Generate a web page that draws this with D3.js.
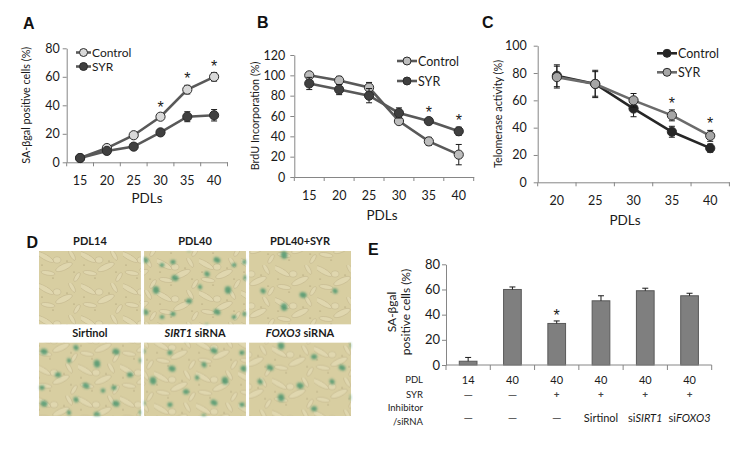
<!DOCTYPE html>
<html>
<head>
<meta charset="utf-8">
<script src="https://cdn.jsdelivr.net/npm/d3@7"></script>
<style>
  body { margin: 0; background: #fff; }
  svg { display: block; font-family: Lato, "Open Sans", sans-serif; }
</style>
</head>
<body>
<svg id="fig" width="750" height="465"></svg>
<script>
// ---- panel A: SA-bgal positive cells vs PDLs
const pdlsA = [15, 20, 25, 30, 35, 40]
const controlA = [3, 10, 19, 32, 51, 60]
const controlAErr = [1, 1.5, 1.5, 2, 3, 3]
const syrA = [3, 8, 11, 21, 32, 33]
const syrAErr = [1, 1.5, 2, 1.5, 3.5, 4]
const starsA = [30, 35, 40]

// ---- panel B: BrdU incorporation
const pdlsB = [15, 20, 25, 30, 35, 40]
const controlB = [100, 95, 88, 55, 35, 22]
const controlBErr = [2, 4, 5, 2, 4, 10]
const syrB = [92, 86, 80, 63, 55, 45]
const syrBErr = [6, 5, 7, 5, 2, 4]
const starsB = [35, 40]

// ---- panel C: telomerase activity
const pdlsC = [20, 25, 30, 35, 40]
const controlC = [78, 72, 54, 37, 25]
const controlCErr = [8, 10, 6, 4, 3]
const syrC = [77, 72, 60, 49, 34]
const syrCErr = [8, 9, 5, 4, 4]
const starsC = [35, 40]

// ---- panel D: stained cultures
const photoTitles = [
  [{t: "PDL14"}], [{t: "PDL40"}], [{t: "PDL40+SYR"}],
  [{t: "Sirtinol"}], [{t: "SIRT1", i: true}, {t: " siRNA"}], [{t: "FOXO3", i: true}, {t: " siRNA"}]
]
const photoStain = [0, 1, 0.4, 1, 0.9, 0.65]

// ---- panel E: SA-bgal after inhibitors
const barValues = [3, 60, 33, 51, 59, 55]
const barErr = [3, 2, 2, 4, 2, 2]
const barPdl = ["14", "40", "40", "40", "40", "40"]
const barSyr = ["—", "—", "+", "+", "+", "+"]
const barInhibitor = [
  [{t: "—"}], [{t: "—"}], [{t: "—"}], [{t: "Sirtinol"}],
  [{t: "si"}, {t: "SIRT1", i: true}], [{t: "si"}, {t: "FOXO3", i: true}]
]
const barStars = [2]

const svg = d3.select("#fig")
const axisColor = "#868686"
const textColor = "#1a1a1a"

function styleAxis(sel, size) {
  sel.attr("font-family", null).attr("font-size", null)
  sel.select(".domain").attr("stroke", axisColor)
  sel.selectAll(".tick line").attr("stroke", axisColor)
  sel.selectAll(".tick text").attr("fill", textColor).style("font-size", size + "px")
}

function letter(t, x, y) {
  svg.append("text").attr("x", x).attr("y", y)
    .attr("font-family", "Liberation Sans, Arial, sans-serif")
    .attr("font-weight", "bold").attr("font-size", 16).attr("fill", "#111")
    .text(t)
}

function star(sel) {
  sel.attr("text-anchor", "middle").attr("font-size", 16)
    .attr("font-family", "Liberation Sans, Arial, sans-serif")
    .attr("fill", textColor).text("*")
}

function linePanel(cfg) {
  const g = svg.append("g")
  const x = d3.scaleBand().domain(cfg.pdls).range([cfg.x0, cfg.x1])
  const cx = p => x(p) + x.bandwidth() / 2
  const y = d3.scaleLinear().domain([0, cfg.yMax]).range([cfg.y0, cfg.yTop])

  const yAxis = g.append("g")
    .attr("transform", `translate(${cfg.x0},0)`)
    .call(d3.axisLeft(y).tickValues(d3.range(0, cfg.yMax + 1, 20))
      .tickSize(4).tickSizeOuter(0).tickPadding(cfg.yPad))
  styleAxis(yAxis, 12.5)

  const xAxis = g.append("g")
    .attr("transform", `translate(0,${cfg.y0})`)
    .call(d3.axisBottom(x).tickSize(0).tickPadding(14))
  styleAxis(xAxis, 12.5)
  xAxis.selectAll(".bound")
    .data(d3.range(cfg.pdls.length + 1))
    .join("line")
      .attr("class", "bound")
      .attr("x1", i => cfg.x0 + i * x.step())
      .attr("x2", i => cfg.x0 + i * x.step())
      .attr("y1", 0).attr("y2", 4)
      .attr("stroke", axisColor)

  g.append("text")
    .attr("transform", `translate(${cfg.yTitleX},${(cfg.y0 + cfg.yTop) / 2}) rotate(-90)`)
    .attr("text-anchor", "middle").attr("dominant-baseline", "central")
    .attr("font-size", 10.8).attr("fill", textColor)
    .text(cfg.yTitle)
  g.append("text")
    .attr("x", cfg.xTitleX).attr("y", cfg.xTitleY)
    .attr("text-anchor", "middle").attr("dominant-baseline", "central")
    .attr("font-size", 13.5).attr("fill", textColor)
    .text("PDLs")

  cfg.series.forEach(s => {
    const pts = cfg.pdls.map((p, i) => ({p, v: s.values[i], e: s.err[i]}))
    g.append("path").datum(pts)
      .attr("d", d3.line().x(d => cx(d.p)).y(d => y(d.v)))
      .attr("fill", "none").attr("stroke", s.line).attr("stroke-width", 2.6)
    const eb = g.append("g").attr("stroke", "#1a1a1a").attr("stroke-width", 1)
    eb.selectAll("line.v").data(pts).join("line").attr("class", "v")
      .attr("x1", d => cx(d.p)).attr("x2", d => cx(d.p))
      .attr("y1", d => y(d.v - d.e)).attr("y2", d => y(d.v + d.e))
    eb.selectAll("line.hi").data(pts).join("line").attr("class", "hi")
      .attr("x1", d => cx(d.p) - 3).attr("x2", d => cx(d.p) + 3)
      .attr("y1", d => y(d.v + d.e)).attr("y2", d => y(d.v + d.e))
    eb.selectAll("line.lo").data(pts).join("line").attr("class", "lo")
      .attr("x1", d => cx(d.p) - 3).attr("x2", d => cx(d.p) + 3)
      .attr("y1", d => y(d.v - d.e)).attr("y2", d => y(d.v - d.e))
    g.append("g").selectAll("circle").data(pts).join("circle")
      .attr("cx", d => cx(d.p)).attr("cy", d => y(d.v)).attr("r", 4.6)
      .attr("fill", s.fill).attr("stroke", "#2b2b2b").attr("stroke-width", 1)
  })

  g.selectAll("text.star").data(cfg.stars).join("text").attr("class", "star")
    .attr("x", p => cx(p))
    .attr("y", p => {
      const i = cfg.pdls.indexOf(p)
      const top = d3.max(cfg.series, s => s.values[i] + s.err[i])
      return y(top) - 10 + 9
    })
    .call(star)

  const lg = cfg.legend
  cfg.series.forEach((s, i) => {
    const ly = lg.y[i]
    g.append("line").attr("x1", lg.x1).attr("x2", lg.x2).attr("y1", ly).attr("y2", ly)
      .attr("stroke", s.line).attr("stroke-width", 2.6)
    g.append("circle").attr("cx", (lg.x1 + lg.x2) / 2).attr("cy", ly).attr("r", 4)
      .attr("fill", s.fill).attr("stroke", "#2b2b2b").attr("stroke-width", 1)
    g.append("text").attr("x", lg.x2 + 1).attr("y", ly)
      .attr("dominant-baseline", "central").attr("font-size", lg.size).attr("fill", textColor)
      .text(s.name)
  })
}

linePanel({
  pdls: pdlsA, yMax: 80, x0: 66.7, x1: 227.5, yTop: 48.3, y0: 162.3, yPad: 3,
  yTitle: "SA-βgal positive cells (%)", yTitleX: 25.5, xTitleX: 147, xTitleY: 198,
  series: [
    {name: "Control", values: controlA, err: controlAErr, fill: "#d9d9d9", line: "#595959"},
    {name: "SYR", values: syrA, err: syrAErr, fill: "#404040", line: "#595959"}
  ],
  stars: starsA,
  legend: {x1: 76, x2: 91, y: [52.5, 66.5], size: 12}
})
linePanel({
  pdls: pdlsB, yMax: 120, x0: 294.3, x1: 473.7, yTop: 55, y0: 177, yPad: 5,
  yTitle: "BrdU Incorporation (%)", yTitleX: 254, xTitleX: 382, xTitleY: 215,
  series: [
    {name: "Control", values: controlB, err: controlBErr, fill: "#bdbdbd", line: "#595959"},
    {name: "SYR", values: syrB, err: syrBErr, fill: "#404040", line: "#595959"}
  ],
  stars: starsB,
  legend: {x1: 397, x2: 417, y: [61, 81], size: 12.5}
})
linePanel({
  pdls: pdlsC, yMax: 100, x0: 537.7, x1: 729.4, yTop: 45.7, y0: 182.3, yPad: 7,
  yTitle: "Telomerase activity (%)", yTitleX: 497, xTitleX: 625, xTitleY: 220,
  series: [
    {name: "Control", values: controlC, err: controlCErr, fill: "#262626", line: "#262626"},
    {name: "SYR", values: syrC, err: syrCErr, fill: "#a6a6a6", line: "#6b6b6b"}
  ],
  stars: starsC,
  legend: {x1: 657, x2: 677, y: [53.3, 72.3], size: 12.5}
})

letter("A", 23, 29)
letter("B", 257, 28)
letter("C", 482, 28)
letter("D", 26.5, 248)
letter("E", 368, 255)

// ---- panel D: photo tiles (textured stand-ins for the micrographs)
const defs = svg.append("defs")
defs.append("filter").attr("id", "soft").attr("x", "-10%").attr("y", "-10%")
  .attr("width", "120%").attr("height", "120%")
  .append("feGaussianBlur").attr("stdDeviation", 0.9)

const cellShapes = [[6, 6, 10, 2.6, 30], [25, 16, 9, 3, -25], [9, 22, 7, 2.2, 10],
  [33, 4, 6, 2, 60], [18, 9, 4, 3.2, 0], [38, 26, 5, 2, -60]]
const cellDots = [[14, 27], [35, 21], [3, 14], [28, 10]]
const blobShapes = [[8, 10, 3.6, 2.8, 20], [40, 6, 2.8, 2.3, 45], [61, 22, 3.2, 3.8, -10],
  [22, 33, 3, 2.6, 0], [50, 44, 3.6, 2.7, 30], [6, 46, 2.6, 2.3, 0],
  [33, 19, 2.4, 2, 60], [67, 49, 2.4, 2, 0]]

photoStain.forEach((stain, i) => {
  const ct = defs.append("pattern").attr("id", `cells${i}`)
    .attr("patternUnits", "userSpaceOnUse").attr("width", 42).attr("height", 32)
    .attr("patternTransform", `translate(${i * 13},${i * 7})`)
  ct.selectAll("ellipse").data(cellShapes).join("ellipse")
    .attr("transform", d => `translate(${d[0]},${d[1]}) rotate(${d[4]})`)
    .attr("rx", d => d[2]).attr("ry", d => d[3])
    .attr("fill", "rgba(238,232,200,0.35)")
    .attr("stroke", "rgba(140,122,80,0.3)").attr("stroke-width", 0.6)
  ct.selectAll("circle").data(cellDots).join("circle")
    .attr("cx", d => d[0]).attr("cy", d => d[1]).attr("r", 0.6)
    .attr("fill", "rgba(80,60,30,0.45)")

  const bt = defs.append("pattern").attr("id", `blobs${i}`)
    .attr("patternUnits", "userSpaceOnUse").attr("width", 72).attr("height", 52)
    .attr("patternTransform", `translate(${i * 23},${i * 17})`)
  bt.selectAll("ellipse").data(blobShapes.filter((b, k) => k < Math.round(stain * blobShapes.length)))
    .join("ellipse")
      .attr("transform", d => `translate(${d[0]},${d[1]}) rotate(${d[4]})`)
      .attr("rx", d => d[2]).attr("ry", d => d[3])
      .attr("fill", "rgb(44,138,100)").attr("opacity", 0.7)
})

const col = d3.scaleBand().domain([0, 1, 2]).range([39, 351]).paddingInner(0.03)
const row = d3.scaleBand().domain([0, 1]).range([251, 416]).paddingInner(0.2)
const photos = photoTitles.map((t, i) => ({t, c: i % 3, r: Math.floor(i / 3), i}))

const pg = svg.append("g").selectAll("g").data(photos).join("g")
  .attr("transform", d => `translate(${col(d.c)},${row(d.r)})`)
pg.append("rect").attr("width", col.bandwidth()).attr("height", row.bandwidth())
  .attr("fill", "#d8cea1")
pg.append("rect").attr("width", col.bandwidth()).attr("height", row.bandwidth())
  .attr("fill", d => `url(#cells${d.i})`)
pg.append("rect").attr("width", col.bandwidth()).attr("height", row.bandwidth())
  .attr("fill", d => `url(#blobs${d.i})`).attr("filter", "url(#soft)")
pg.append("text")
  .attr("x", col.bandwidth() / 2).attr("y", -6)
  .attr("text-anchor", "middle").attr("font-size", 11).attr("font-weight", "bold")
  .attr("fill", textColor)
  .selectAll("tspan").data(d => d.t).join("tspan")
    .attr("font-style", s => s.i ? "italic" : null)
    .text(s => s.t)

// ---- panel E: bar chart
const eg = svg.append("g")
const ex0 = 446, ex1 = 711.7, eyTop = 264.3, ey0 = 365
const xb = d3.scaleBand().domain(d3.range(barValues.length)).range([ex0, ex1])
  .paddingInner(0.6).paddingOuter(0.3)
const xc = i => xb(i) + xb.bandwidth() / 2
const yb = d3.scaleLinear().domain([0, 80]).range([ey0, eyTop])

eg.selectAll("rect").data(barValues).join("rect")
  .attr("x", (d, i) => xb(i)).attr("width", xb.bandwidth())
  .attr("y", d => yb(d)).attr("height", d => ey0 - yb(d))
  .attr("fill", "#7f7f7f").attr("stroke", "#595959").attr("stroke-width", 1)
eg.selectAll("line.err").data(barValues).join("line").attr("class", "err")
  .attr("x1", (d, i) => xc(i)).attr("x2", (d, i) => xc(i))
  .attr("y1", d => yb(d)).attr("y2", (d, i) => yb(d + barErr[i]))
  .attr("stroke", "#1a1a1a")
eg.selectAll("line.cap").data(barValues).join("line").attr("class", "cap")
  .attr("x1", (d, i) => xc(i) - 3).attr("x2", (d, i) => xc(i) + 3)
  .attr("y1", (d, i) => yb(d + barErr[i])).attr("y2", (d, i) => yb(d + barErr[i]))
  .attr("stroke", "#1a1a1a")
eg.selectAll("text.star").data(barStars).join("text").attr("class", "star")
  .attr("x", i => xc(i)).attr("y", i => yb(barValues[i] + barErr[i]) - 9 + 9)
  .call(star)

const eyAxis = eg.append("g").attr("transform", `translate(${ex0},0)`)
  .call(d3.axisLeft(yb).tickValues([0, 20, 40, 60, 80]).tickSize(4).tickSizeOuter(0).tickPadding(2))
styleAxis(eyAxis, 13)
eg.append("line").attr("x1", ex0).attr("x2", ex1).attr("y1", ey0).attr("y2", ey0)
  .attr("stroke", axisColor)
eg.selectAll("line.bound").data(d3.range(barValues.length + 1)).join("line").attr("class", "bound")
  .attr("x1", i => ex0 + i * xb.step()).attr("x2", i => ex0 + i * xb.step())
  .attr("y1", ey0).attr("y2", ey0 + 5).attr("stroke", axisColor)

eg.append("text")
  .attr("transform", `translate(391,312) rotate(-90)`)
  .attr("text-anchor", "middle").attr("dominant-baseline", "central")
  .attr("font-size", 12).attr("fill", textColor).text("SA-βgal")
eg.append("text")
  .attr("transform", `translate(405.5,312) rotate(-90)`)
  .attr("text-anchor", "middle").attr("dominant-baseline", "central")
  .attr("font-size", 12).attr("fill", textColor).text("positive cells (%)")

const rowLabels = [["PDL", 379.3], ["SYR", 394.3], ["Inhibitor", 407], ["/siRNA", 421.5]]
eg.selectAll("text.rowlab").data(rowLabels).join("text").attr("class", "rowlab")
  .attr("x", 423).attr("y", d => d[1])
  .attr("text-anchor", "end").attr("dominant-baseline", "central")
  .attr("font-size", 9.5).attr("fill", textColor)
  .text(d => d[0])

eg.selectAll("text.pdl").data(barPdl).join("text").attr("class", "pdl")
  .attr("x", (d, i) => xc(i)).attr("y", 379.3)
  .attr("text-anchor", "middle").attr("dominant-baseline", "central")
  .attr("font-size", 11).attr("fill", textColor).text(d => d)
eg.selectAll("text.syr").data(barSyr).join("text").attr("class", "syr")
  .attr("x", (d, i) => xc(i)).attr("y", 394.3)
  .attr("text-anchor", "middle").attr("dominant-baseline", "central")
  .attr("font-size", d => d === "+" ? 10 : 12)
  .attr("font-weight", d => d === "+" ? "bold" : null)
  .attr("fill", "#444").text(d => d)
eg.selectAll("text.inh").data(barInhibitor).join("text").attr("class", "inh")
  .attr("x", (d, i) => xc(i)).attr("y", 416.7)
  .attr("text-anchor", "middle").attr("dominant-baseline", "central")
  .attr("font-size", d => d[0].t === "—" ? 12 : 11)
  .attr("fill", d => d[0].t === "—" ? "#444" : textColor)
  .selectAll("tspan").data(d => d).join("tspan")
    .attr("font-style", s => s.i ? "italic" : null)
    .text(s => s.t)
</script>
</body>
</html>
